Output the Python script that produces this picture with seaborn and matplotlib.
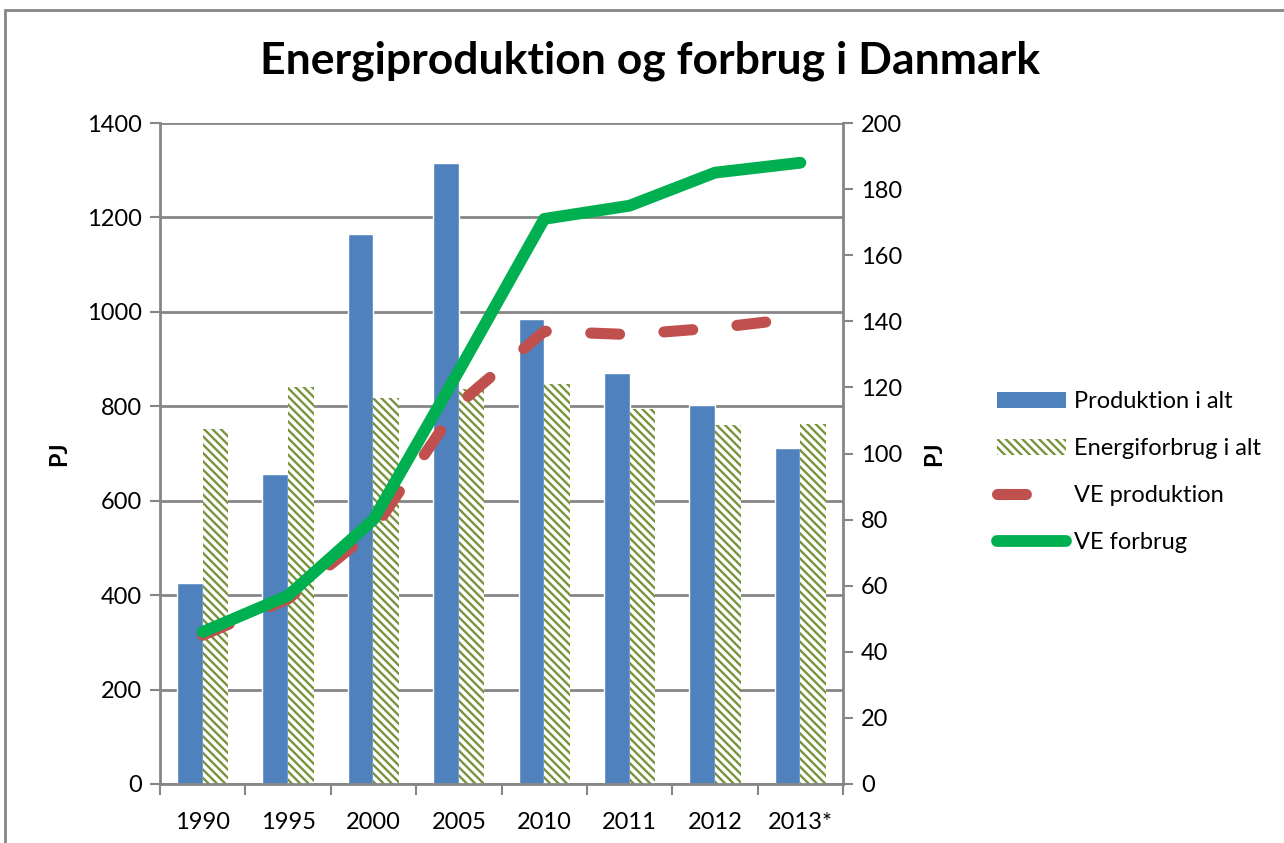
import matplotlib
matplotlib.use("Agg")
import matplotlib.pyplot as plt
import seaborn as sns
import pandas as pd
from matplotlib.patches import Patch, Rectangle
from matplotlib.lines import Line2D

years = ["1990", "1995", "2000", "2005", "2010", "2011", "2012", "2013*"]
produktion = [425, 657, 1166, 1316, 985, 871, 803, 711]
energiforbrug = [753, 840, 817, 836, 848, 794, 760, 762]
ve_produktion = [45, 56, 77, 115, 137, 136, 138, 141]
ve_forbrug = [46, 57, 80, 125, 171, 175, 185, 188]

BLUE = "#4f81bd"
OLIVE = "#77933c"
RED = "#c0504d"
GREEN = "#00b050"
GRID = "#868686"

sns.set_theme(style="white")
plt.rcParams["font.family"] = ["Lato", "DejaVu Sans"]
plt.rcParams["hatch.linewidth"] = 1.7
plt.rcParams["text.color"] = "black"
plt.rcParams["xtick.color"] = "black"
plt.rcParams["ytick.color"] = "black"
plt.rcParams["axes.labelcolor"] = "black"

HATCH = "\\\\\\\\"

df = pd.DataFrame({
    "year": years * 2,
    "value": produktion + energiforbrug,
    "serie": ["Produktion i alt"] * len(years) + ["Energiforbrug i alt"] * len(years),
})

fig = plt.figure(figsize=(12.84, 8.43), dpi=100)
ax = fig.add_axes([0.1246, 0.070, 0.532, 0.784])

sns.barplot(data=df, x="year", y="value", hue="serie", ax=ax, width=0.6,
            palette=[BLUE, "white"], saturation=1, legend=False, gap=0)

for bar in ax.containers[1]:
    bar.set_hatch(HATCH)
    bar.set_edgecolor(OLIVE)
    bar.set_linewidth(0)

ax.set_ylim(0, 1400)
ax.set_xlim(-0.5, len(years) - 0.5)
ax.set_yticks(range(0, 1401, 200))
ax.yaxis.grid(True, color=GRID, linewidth=2)
ax.set_axisbelow(True)
ax.set_xlabel("")
ax.set_ylabel("PJ", fontsize=17, fontweight="bold", labelpad=12)
ax.tick_params(axis="y", labelsize=17, length=7, width=1.5, color=GRID, left=True, pad=6,
               labelcolor="black")
ax.tick_params(axis="x", labelsize=17, length=0, pad=20, labelcolor="black")
ax.set_xticks([i - 0.5 for i in range(len(years) + 1)], minor=True)
ax.tick_params(axis="x", which="minor", length=8, width=1.5, color=GRID, bottom=True)
for side in ["left", "right", "bottom"]:
    ax.spines[side].set_color(GRID)
    ax.spines[side].set_linewidth(2)
ax.spines["top"].set_visible(False)

ax2 = ax.twinx()
sns.pointplot(x=years, y=ve_produktion, ax=ax2, color=RED, markers="",
              linestyles="--", linewidth=8)
sns.pointplot(x=years, y=ve_forbrug, ax=ax2, color=GREEN, markers="",
              linestyles="-", linewidth=8.5)
for ln in ax2.lines:
    ln.set_solid_capstyle("round")
    ln.set_dash_capstyle("round")
    ln.set_solid_joinstyle("round")
ax2.lines[0].set_dashes([2.6, 4.0])

ax2.set_ylim(0, 200)
ax2.set_xlim(-0.5, len(years) - 0.5)
ax2.set_yticks(range(0, 201, 20))
ax2.set_ylabel("PJ", fontsize=17, fontweight="bold", labelpad=14)
ax2.tick_params(axis="y", labelsize=17, length=7, width=1.5, color=GRID, right=True, pad=6,
                labelcolor="black")
for side in ["left", "right", "bottom", "top"]:
    ax2.spines[side].set_visible(False)

fig.suptitle("Energiproduktion og forbrug i Danmark", fontsize=32, fontweight="bold",
             x=0.506, y=0.952, color="black")

red_handle = Line2D([0], [0], color=RED, linewidth=8, dash_capstyle="round",
                    linestyle="--")
red_handle.set_dashes([2.6, 4.0])
handles = [
    Patch(facecolor=BLUE, edgecolor=BLUE, linewidth=0),
    Patch(facecolor="white", edgecolor=OLIVE, hatch=HATCH, linewidth=0),
    red_handle,
    Line2D([0], [0], color=GREEN, linewidth=8.5, solid_capstyle="round"),
]
labels = ["Produktion i alt", "Energiforbrug i alt", "VE produktion", "VE forbrug"]
fig.legend(handles, labels, loc="center left", bbox_to_anchor=(0.760, 0.44),
           frameon=False, fontsize=17, labelspacing=1.1, handlelength=2.9,
           handleheight=0.7, handletextpad=0.35, labelcolor="black")

fig.add_artist(Rectangle((0.004, -0.1), 1.2, 1.088, transform=fig.transFigure,
                         fill=False, edgecolor=GRID, linewidth=2))

fig.savefig("out.png", dpi=100)
